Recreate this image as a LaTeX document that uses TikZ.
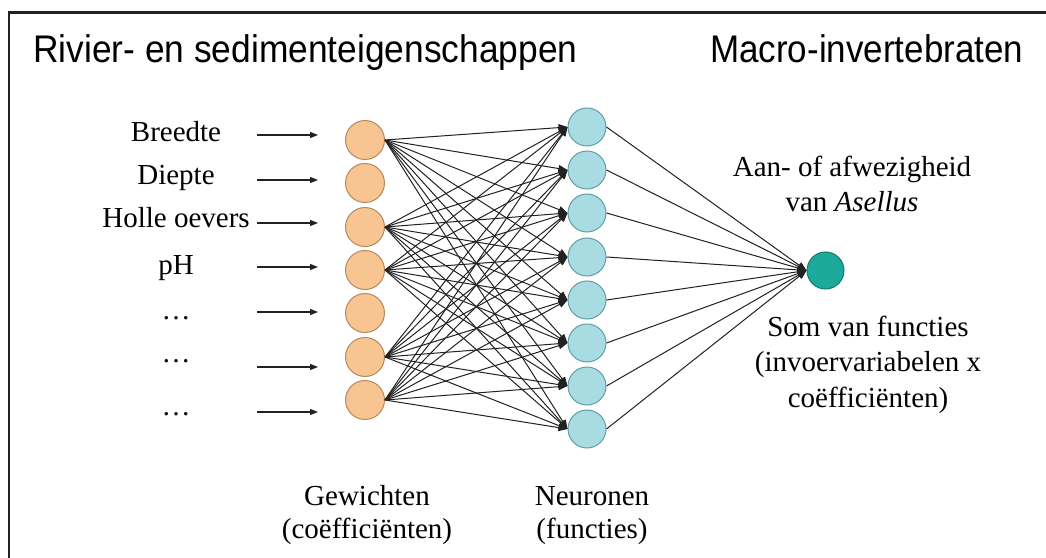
\documentclass[tikz,border=0pt]{standalone}
\usepackage{fontspec}
\setmainfont{Liberation Serif}
\newfontfamily\titlefont{Liberation Sans}
\usetikzlibrary{arrows.meta}
\definecolor{inorange}{HTML}{F8C491}
\definecolor{inborder}{HTML}{B48A5E}
\definecolor{hidcyan}{HTML}{A9DCE2}
\definecolor{hidborder}{HTML}{5F9EA5}
\definecolor{outteal}{HTML}{1BA99B}
\definecolor{outborder}{HTML}{147A70}
\definecolor{linegray}{HTML}{222222}
\begin{document}
\begin{tikzpicture}[x=1bp,y=-1bp,
  inneuron/.style={circle,draw=inborder,fill=inorange,line width=1bp,minimum size=39bp,inner sep=0pt},
  hidneuron/.style={circle,draw=hidborder,fill=hidcyan,line width=1bp,minimum size=38bp,inner sep=0pt},
  outneuron/.style={circle,draw=outborder,fill=outteal,line width=1bp,minimum size=37bp,inner sep=0pt},
  titletext/.style={font=\titlefont\fontsize{35bp}{42bp}\selectfont,anchor=base west,inner sep=0pt},
  lbl/.style={font=\fontsize{29bp}{35bp}\selectfont,anchor=base,inner sep=0pt},
  feed/.style={draw=linegray,line width=1.1bp,-{Triangle[length=8bp,width=6bp]}},
  wire/.style={draw=linegray,line width=1bp,-{Triangle[length=9bp,width=7bp]}},
  frameline/.style={draw=linegray,line width=2.2bp},
]
\useasboundingbox (0,0) rectangle (1046,558);
\fill[white] (0,0) rectangle (1046,558);

% frame
\coordinate (fbl) at (9,558);
\coordinate (ftl) at (9,12.5);
\coordinate (ftr) at (1046,12.5);
\draw[frameline] (fbl) -- (ftl) -- (ftr);

% titles (slightly tall look)
\node[titletext] (t1) at (33,63) {\scalebox{1.01}[1.1]{Rivier- en sedimenteigenschappen}};
\node[titletext] (t2) at (710,63) {\scalebox{1.0}[1.1]{Macro-invertebraten}};

% input layer
\foreach \i/\y in {1/140,2/183,3/227,4/270,5/313,6/357,7/400}
  \node[inneuron] (o\i) at (365,\y) {};

% hidden layer
\foreach \j/\y in {1/127,2/170,3/213,4/257,5/300,6/343,7/386,8/429}
  \node[hidneuron] (h\j) at (587,\y) {};

% output
\node[outneuron] (out) at (825.5,270.5) {};

% input labels and arrows
\foreach \k/\txt/\base/\ay in {1/Breedte/142/135,2/Diepte/185/180,3/Holle oevers/228/223,4/pH/275/267,5/…/320/312,6/…/363/367,7/…/415/412}{
  \node[lbl] (L\k) at (176,\base) {\txt};
  \coordinate (as\k) at (257,\ay);
  \coordinate (ae\k) at (318,\ay);
  \draw[feed] (as\k) -- (ae\k);
}

% weights
\foreach \i in {1,3,4,6,7}
  \foreach \j in {1,...,8}
    \draw[wire] (o\i.east) -- (h\j.west);

% hidden to output
\foreach \j in {1,...,8}
  \draw[wire] (h\j.east) -- (out.west);

% right labels
\node[lbl] (r1) at (852,177) {Aan- of afwezigheid};
\node[lbl] (r2) at (852,212) {van \textit{Asellus}};
\node[lbl] (r3) at (868,337) {Som van functies};
\node[lbl] (r4) at (868,372) {(invoervariabelen x};
\node[lbl] (r5) at (868,407) {coëfficiënten)};

% bottom labels
\node[lbl] (b1) at (367,505) {Gewichten};
\node[lbl] (b2) at (367,538) {(coëfficiënten)};
\node[lbl] (b3) at (592,505) {Neuronen};
\node[lbl] (b4) at (592,538) {(functies)};
\end{tikzpicture}
\end{document}
